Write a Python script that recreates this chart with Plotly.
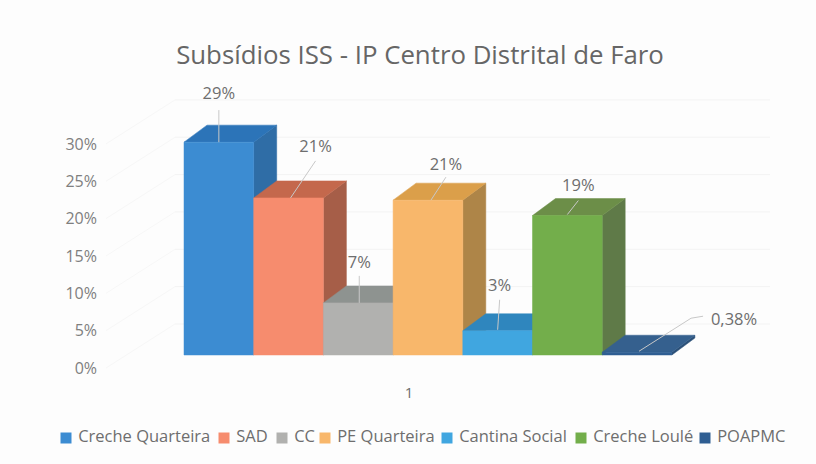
import plotly.graph_objects as go

TITLE = "Subsídios ISS - IP Centro Distrital de Faro"
SERIES = ["Creche Quarteira", "SAD", "CC", "PE Quarteira", "Cantina Social", "Creche Loulé", "POAPMC"]
VALUES = [29.0, 21.4, 7.1, 21.1, 3.3, 19.0, 0.38]
LABELS = ["29%", "21%", "7%", "21%", "3%", "19%", "0,38%"]
AXIS_TICKS = [0, 5, 10, 15, 20, 25, 30]
AXIS_LABELS = ["0%", "5%", "10%", "15%", "20%", "25%", "30%"]
CATEGORY = "1"

FRONT = ["#3C8CD2", "#F68C6E", "#B1B1AF", "#F8B76B", "#40A6E0", "#73AE4B", "#2F5E92"]
TOP = ["#2C74B8", "#C4684C", "#8E9390", "#DB9F4A", "#2F86BE", "#6C8E48", "#35608E"]
SIDE = ["#2F6DA6", "#A65E48", "#7E8280", "#AE8548", "#2A78A8", "#5F7A48", "#2B5078"]
INK = "#6E6E6E"
FONT = "Open Sans"

W, H = 816, 464
BAR_PX, BASE_PX, LEFT_PX, UNIT_PX = 69.7, 355, 184, 7.34
DX_PX, DY_PX = 23, 17
TICK_ZERO_PX, TICK_UNIT_PX = 368, 7.47
WALL_LEFT, WALL_RIGHT, WALL_RISE = 175, 770, 44
WALL_FRONT = 106

# label centre and leader (start -> bar end), as pixel offsets from top-front centre of each bar
LABEL_OFF = [(0, -47), (27, -50), (1, -39), (18, -34), (2, -44), (11, -29), (97, -31)]
LEADER_OFF = [
    [(0, -32), (0, 0)], [(27, -37), (2, 0)], [(1, -27), (1, 0)], [(18, -23), (3, 0)],
    [(2, -31), (0, -1)], [(11, -15), (0, -1)], [(66, -36), (54, -34), (2, -1)],
]
LEGEND_PX = [61, 219, 277, 320, 442, 576, 700]
LEGEND_Y_PX = 438


def dx(px):
    return (px - LEFT_PX) / BAR_PX


def dy(px):
    return (BASE_PX - px) / UNIT_PX


def ty(px):
    return (TICK_ZERO_PX - px) / TICK_UNIT_PX


depth_x = DX_PX / BAR_PX
depth_y = DY_PX / UNIT_PX
fig = go.Figure()


def poly(xs, ys, color):
    fig.add_trace(go.Scatter(x=xs + xs[:1], y=ys + ys[:1], mode="lines", fill="toself", fillcolor=color,
                             line=dict(color=color, width=0.5), hoverinfo="skip", showlegend=False))


# value axis carrier: keeps the tick labels on the offset axis drawn
fig.add_trace(go.Scatter(x=[dx(WALL_FRONT)] * len(AXIS_TICKS), y=AXIS_TICKS, yaxis="y2", mode="markers",
                         marker=dict(size=1, opacity=0), hoverinfo="skip", showlegend=False))

# back wall gridlines (drawn first, behind bars)
for t in AXIS_TICKS:
    py = TICK_ZERO_PX - t * TICK_UNIT_PX
    fig.add_trace(go.Scatter(x=[dx(WALL_FRONT), dx(WALL_LEFT)], y=[dy(py), dy(py - WALL_RISE)],
                             mode="lines", line=dict(color="#F7F7F7", width=1), hoverinfo="skip", showlegend=False))
    fig.add_trace(go.Scatter(x=[dx(WALL_LEFT), dx(WALL_RIGHT)], y=[dy(py - WALL_RISE), dy(py - WALL_RISE)],
                             mode="lines", line=dict(color="#F3F3F3", width=1), hoverinfo="skip", showlegend=False))

for i, v in enumerate(VALUES):
    l, r = float(i), float(i + 1)
    poly([r, r + depth_x, r + depth_x, r], [0, depth_y, v + depth_y, v], SIDE[i])
    poly([l, r, r + depth_x, l + depth_x], [v, v, v + depth_y, v + depth_y], TOP[i])
    poly([l, r, r, l], [0, 0, v, v], FRONT[i])

for i, v in enumerate(VALUES):
    cx = i + 0.5
    fig.add_trace(go.Scatter(x=[cx + a / BAR_PX for a, _ in LEADER_OFF[i]],
                             y=[v - b / UNIT_PX for _, b in LEADER_OFF[i]], mode="lines",
                             line=dict(color="#C8C8C8", width=1), hoverinfo="skip", showlegend=False))
    fig.add_trace(go.Scatter(x=[cx + LABEL_OFF[i][0] / BAR_PX], y=[v - LABEL_OFF[i][1] / UNIT_PX], mode="text",
                             text=[LABELS[i]], textposition="middle center",
                             textfont=dict(family=FONT, size=16.5, color=INK), hoverinfo="skip", showlegend=False))

# legend row
for i, name in enumerate(SERIES):
    fig.add_trace(go.Scatter(x=[dx(LEGEND_PX[i] + 5)], y=[dy(LEGEND_Y_PX)], mode="markers+text",
                             text=["\u00a0" + name], textposition="middle right",
                             marker=dict(symbol="square", size=11, color=FRONT[i]),
                             textfont=dict(family=FONT, size=16.5, color=INK), hoverinfo="skip", showlegend=False))

fig.update_layout(
    width=W, height=H, margin=dict(l=0, r=0, t=0, b=0), paper_bgcolor="#FDFDFD", plot_bgcolor="rgba(0,0,0,0)",
    showlegend=False,
    title=dict(text=TITLE, x=420 / W, xanchor="center", y=1 - 55 / H, yanchor="middle",
               font=dict(family=FONT, size=25.8, color="#666666")),
    xaxis=dict(range=[dx(0), dx(W)], showgrid=False, zeroline=False, showline=False, tickvals=[dx(409)],
               ticktext=[CATEGORY], ticks="", anchor="free", position=1 - 382 / H,
               tickfont=dict(family=FONT, size=15, color=INK)),
    yaxis=dict(range=[dy(H), dy(0)], visible=False, fixedrange=True),
    yaxis2=dict(range=[ty(H), ty(0)], overlaying="y", anchor="free", position=97 / W, side="left",
                tickvals=AXIS_TICKS, ticktext=AXIS_LABELS, showgrid=False, zeroline=False, showline=False, ticks="",
                tickfont=dict(family=FONT, size=16, color="#7F7F7F")),
)
fig.write_html("out.html", config={"displayModeBar": False}, post_script="document.body.style.margin='0';")
